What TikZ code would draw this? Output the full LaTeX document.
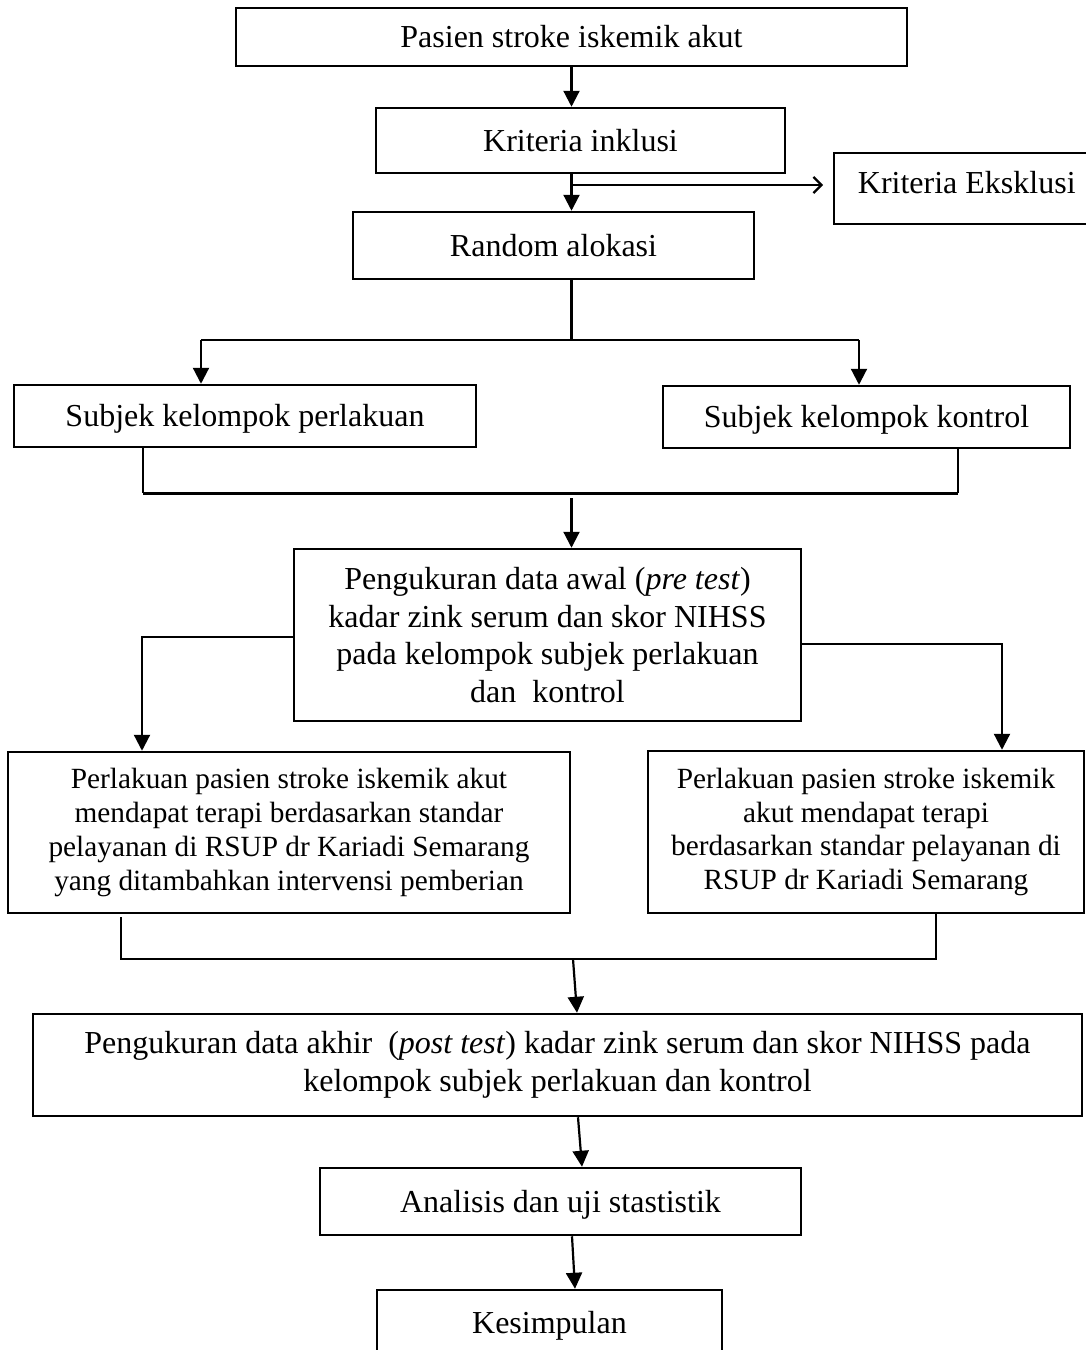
\documentclass[tikz,border=0pt]{standalone}
\usepackage{fontspec}
\setmainfont{Liberation Serif}
\usetikzlibrary{arrows.meta}
\begin{document}
\begin{tikzpicture}[x=1pt,y=-1pt,
  box/.style={draw, line width=2.5pt, inner sep=0pt, align=center, font=\fontsize{32}{37.5}\selectfont},
  one/.style={text height=24pt, text depth=3pt},
  small/.style={font=\fontsize{29.3}{33.8}\selectfont},
  conn/.style={line width=2.2pt},
  thick2/.style={line width=3pt},
  arr/.style={conn, -{Triangle[length=16pt,width=16pt]}},
  oarr/.style={conn, -{Straight Barb[length=8pt,width=16pt]}}]
\clip (0,0) rectangle (1086,1350);
\fill[white] (0,0) rectangle (1086,1350);

% boxes
\node[box, one, minimum width=671pt, minimum height=58pt] (b1) at (571.5,37) {Pasien stroke iskemik akut};
\node[box, one, minimum width=409pt, minimum height=65pt] (b2) at (580.5,140.5) {Kriteria inklusi};
\node[box, anchor=north west, inner xsep=24pt, inner ysep=0pt, text height=41pt, text depth=30pt, line width=1.8pt] (eks) at (833,152) {Kriteria Eksklusi};
\node[box, one, minimum width=401pt, minimum height=67pt] (b3) at (553.5,245.5) {Random alokasi};
\node[box, one, minimum width=462pt, minimum height=62pt] (b4) at (245,416) {Subjek kelompok perlakuan};
\node[box, one, minimum width=407pt, minimum height=62pt] (b5) at (866.5,417) {Subjek kelompok kontrol};
\node[box, minimum width=507pt, minimum height=172pt] (b6) at (547.5,635)
  {Pengukuran data awal (\textit{pre test})\\ kadar zink serum dan skor NIHSS\\ pada kelompok subjek perlakuan\\ dan\ \ kontrol};
\node[box, small, minimum width=562pt, minimum height=161pt] (b7) at (289,832.5)
  {Perlakuan pasien stroke iskemik akut\\ mendapat terapi berdasarkan standar\\ pelayanan di RSUP dr Kariadi Semarang\\ yang ditambahkan intervensi pemberian};
\node[box, small, minimum width=436pt, minimum height=162pt] (b8) at (866,832)
  {Perlakuan pasien stroke iskemik\\ akut mendapat terapi\\ berdasarkan standar pelayanan di\\ RSUP dr Kariadi Semarang};
\node[box, minimum width=1049pt, minimum height=102pt] (b9) at (557.5,1065)
  {Pengukuran data akhir\ \ (\textit{post test}) kadar zink serum dan skor NIHSS pada\\ kelompok subjek perlakuan dan kontrol};
\node[box, one, minimum width=481pt, minimum height=67pt] (b10) at (560.5,1201.5) {Analisis dan uji stastistik};
\node[box, one, minimum width=345pt, minimum height=66pt] (b11) at (549.5,1323) {Kesimpulan};

% connectors top
\draw[arr] (b1.south) -- (b1.south |- b2.north);
\draw[arr] (b1.south |- b2.south) -- (b1.south |- b3.north);
\coordinate (ex) at (572,185);
\draw[oarr] (ex) -- ([xshift=-10pt]eks.west |- ex);

% split to groups
\coordinate (jL) at (201,340);
\coordinate (jR) at (859,340);
\draw[conn] (b1.south |- b3.south) -- (b1.south |- jL);
\draw[conn] (jL) -- (jR);
\draw[arr] (jL) -- (jL |- b4.north);
\draw[arr] (jR) -- (jR |- b5.north);

% merge groups
\coordinate (mL) at (143,493);
\coordinate (mR) at (958,493);
\draw[conn] (mL |- b4.south) -- (mL);
\draw[conn] (mR |- b5.south) -- (mR);
\draw[thick2] (mL) -- (mR);
\draw[arr] ([yshift=-5pt]b1.south |- mL) -- (b1.south |- b6.north);

% pre-test to treatments
\coordinate (pL) at (142,637);
\coordinate (pR) at (1002,644);
\draw[arr] (b6.west |- pL) -- (pL) -- (pL |- b7.north);
\draw[arr] (b6.east |- pR) -- (pR) -- (pR |- b8.north);

% merge treatments
\coordinate (tL) at (121,959);
\coordinate (tR) at (936,959);
\draw[conn] ([yshift=-3pt]tL |- b7.south) -- (tL) -- (tR) -- (tR |- b8.south);
\draw[arr] (573,959) -- ([xshift=19.5pt]b9.north);

% bottom
\draw[arr] ([xshift=20.5pt]b9.south) -- ([xshift=21.5pt]b10.north);
\draw[arr] ([xshift=11.5pt]b10.south) -- ([xshift=25.5pt]b11.north);
\end{tikzpicture}
\end{document}
